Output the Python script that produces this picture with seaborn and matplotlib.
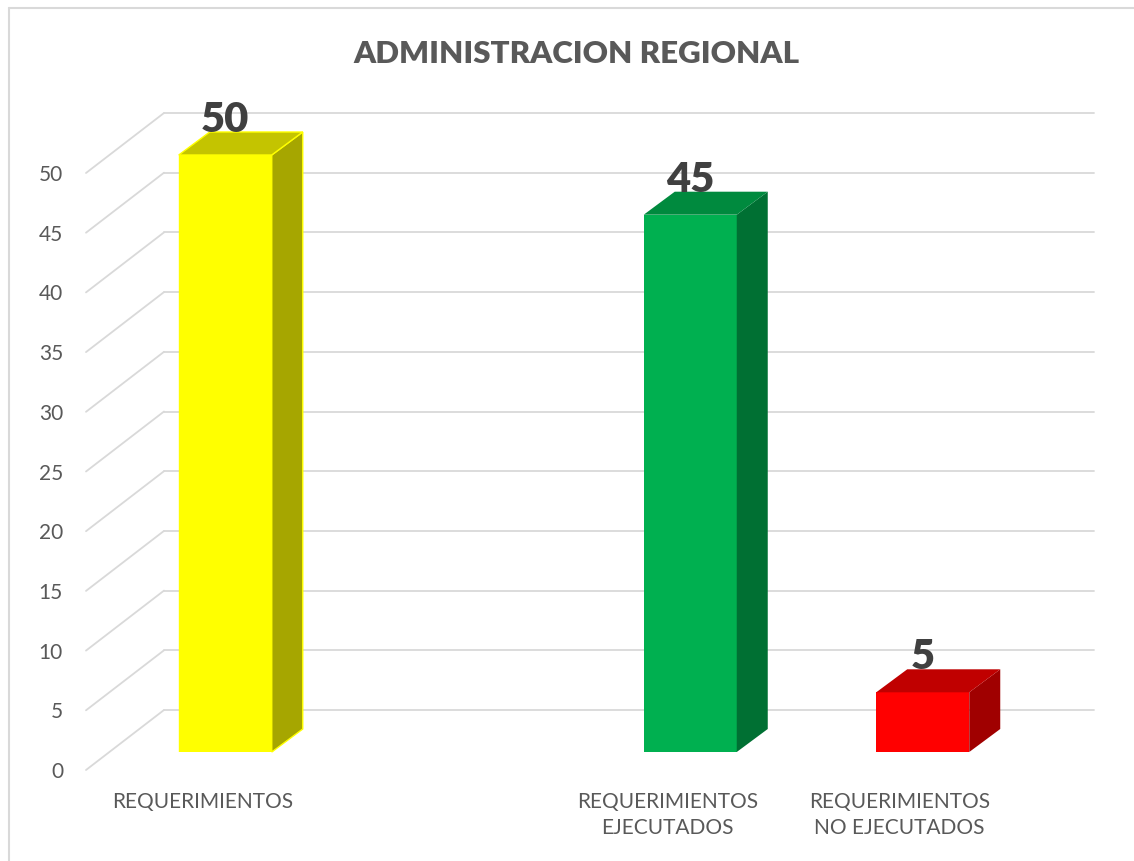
import numpy as np
import pandas as pd
import matplotlib
matplotlib.use("Agg")
import matplotlib.pyplot as plt
from matplotlib.lines import Line2D
from matplotlib.patches import Polygon
from matplotlib.transforms import ScaledTranslation
import seaborn as sns

# datos del grafico
categorias = ["REQUERIMIENTOS", "REQUERIMIENTOS\nEJECUTADOS", "REQUERIMIENTOS\nNO EJECUTADOS"]
valores = [50, 45, 5]
# hueco vacio entre la primera y la segunda barra
orden = ["REQUERIMIENTOS", " ", "REQUERIMIENTOS\nEJECUTADOS", "REQUERIMIENTOS\nNO EJECUTADOS"]
colores_frente = ["#FFFF00", "#00B050", "#FF0000"]
colores_arriba = ["#C4C400", "#008A3E", "#C00000"]
colores_lado = ["#A6A600", "#007033", "#A00000"]
ticks_y = list(range(0, 55, 5))

df = pd.DataFrame({"categoria": categorias, "valor": valores})

sns.set_theme(style="white")
plt.rcParams["font.family"] = ["Lato", "DejaVu Sans"]

W, H, DPI = 1134, 861, 100
fig = plt.figure(figsize=(W / DPI, H / DPI), dpi=DPI)
ax = fig.add_axes([109 / W, 109 / H, 930 / W, 597 / H])

sns.barplot(data=df, x="categoria", y="valor", hue="categoria", order=orden,
            palette=dict(zip(categorias, colores_frente)), width=0.4,
            saturation=1, legend=False, ax=ax, linewidth=0, zorder=3)

ax.set_xlim(-0.5, 3.5)
ax.set_ylim(0, 50)
for s in ax.spines.values():
    s.set_visible(False)
ax.grid(False)

# conversion de pixeles a unidades de datos
px_x = (930 / 4.0)
px_y = (597 / 50.0)
def dx(p):
    return p / px_x
def dy(p):
    return p / px_y

# pared del fondo y lineas diagonales
gris = "#D9D9D9"
back = (55, 42)
front = (-23, -18)
for t in ticks_y:
    ax.plot([-0.5 + dx(back[0]), 3.5 + dx(back[0])], [t + dy(back[1])] * 2,
            color=gris, lw=1.3, zorder=1, clip_on=False)
    ax.plot([-0.5 + dx(front[0]), -0.5 + dx(back[0])],
            [t + dy(front[1]), t + dy(back[1])],
            color=gris, lw=1.3, zorder=1, clip_on=False)

# caras laterales y superiores (3D)
prof = (31, 23)
barras = [p for p in ax.patches if p.get_height() > 0]
barras.sort(key=lambda p: p.get_x())
for i, p in enumerate(barras):
    x0, w, h = p.get_x(), p.get_width(), p.get_height()
    x1 = x0 + w
    ox, oy = dx(prof[0]), dy(prof[1])
    borde = colores_frente[i] if i == 0 else "none"
    lado = Polygon([(x1, 0), (x1 + ox, oy), (x1 + ox, h + oy), (x1, h)],
                   closed=True, facecolor=colores_lado[i], edgecolor=borde,
                   lw=1, zorder=3, clip_on=False)
    arriba = Polygon([(x0, h), (x0 + ox, h + oy), (x1 + ox, h + oy), (x1, h)],
                     closed=True, facecolor=colores_arriba[i], edgecolor=borde,
                     lw=1, zorder=3, clip_on=False)
    ax.add_patch(lado)
    ax.add_patch(arriba)
    if i == 0:
        p.set_edgecolor(colores_frente[i])
        p.set_linewidth(1)
    ax.annotate(f"{h:.0f}", xy=(x0 + w / 2, h), xytext=(0, prof[1] * 0.72),
                textcoords="offset points", ha="center", va="baseline",
                fontsize=30, fontweight="heavy", color="#404040", zorder=5,
                annotation_clip=False)

# etiquetas de ejes
ax.set_yticks(ticks_y)
ax.set_yticklabels([str(t) for t in ticks_y])
ax.set_xlabel("")
ax.set_ylabel("")
ax.tick_params(axis="y", length=0, pad=23 * 0.72, labelsize=15, labelcolor="#595959")
ax.tick_params(axis="x", length=0, pad=22 * 0.72, labelsize=15, labelcolor="#595959")
off = ScaledTranslation(front[0] / DPI, front[1] / DPI, fig.dpi_scale_trans)
for lbl in ax.get_yticklabels() + ax.get_xticklabels():
    lbl.set_transform(lbl.get_transform() + off)
for lbl in ax.get_xticklabels():
    lbl.set_linespacing(1.4)

fig.text(576 / W, 1 - 63 / H, "ADMINISTRACION REGIONAL", ha="center", va="baseline",
         fontsize=22.5, fontweight="heavy", color="#595959")

# borde del area del grafico
fig.add_artist(Line2D([8.5 / W, 8.5 / W], [0, 1 - 7.5 / H], color=gris, lw=1.5))
fig.add_artist(Line2D([8.5 / W, 1], [1 - 7.5 / H, 1 - 7.5 / H], color=gris, lw=1.5))

fig.savefig("out.png", dpi=DPI)
